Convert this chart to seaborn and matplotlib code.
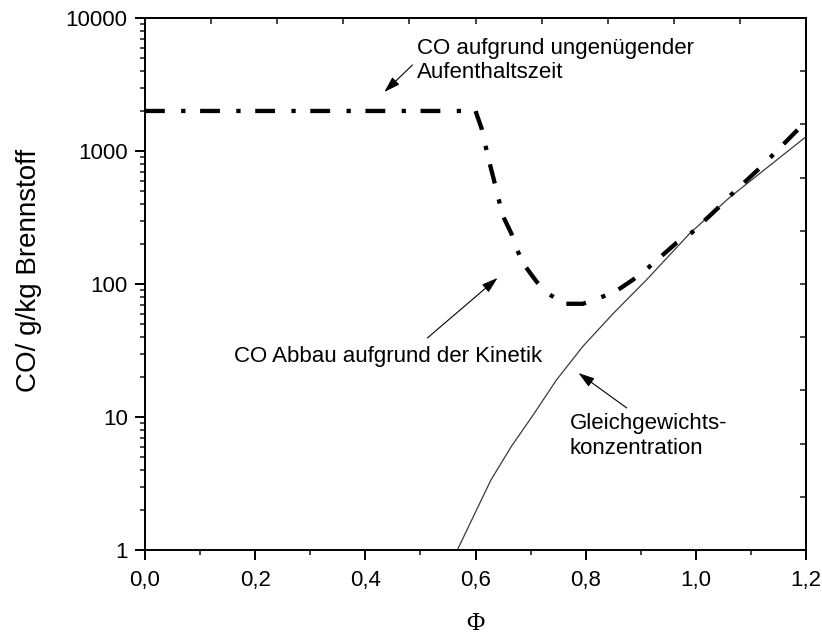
import numpy as np
import pandas as pd
import matplotlib
matplotlib.use("Agg")
import matplotlib.pyplot as plt
import matplotlib.ticker as mticker
import seaborn as sns

# ---- data ----
kin_phi = [0.0, 0.6, 0.611, 0.618, 0.625, 0.638, 0.649, 0.665, 0.675, 0.689,
           0.711, 0.731, 0.762, 0.795, 0.827, 0.858, 0.885, 0.913, 0.965,
           0.991, 1.04, 1.064, 1.113, 1.136, 1.185, 1.2]
kin_co = [2000, 2000, 1480, 1100, 830, 510, 330, 240, 182, 138,
          104, 85, 71, 71, 79, 90, 107, 132, 204,
          240, 372, 468, 724, 900, 1445, 1600]

eq_phi = [0.567, 0.628, 0.665, 0.707, 0.747, 0.795, 0.850, 0.910, 0.989,
          1.062, 1.2]
eq_co = [1.0, 3.36, 6.0, 10.7, 19, 34, 60, 107, 240, 450, 1280]

x_ticks = [0.0, 0.2, 0.4, 0.6, 0.8, 1.0, 1.2]
x_ticklabels = ["0,0", "0,2", "0,4", "0,6", "0,8", "1,0", "1,2"]
y_ticks = [1, 10, 100, 1000, 10000]
y_ticklabels = ["1", "10", "100", "1000", "10000"]

kin_df = pd.DataFrame({"phi": kin_phi, "co": kin_co})
eq_df = pd.DataFrame({"phi": eq_phi, "co": eq_co})

sns.set_style("ticks")
plt.rcParams["font.family"] = ["Liberation Sans", "DejaVu Sans"]
plt.rcParams["text.color"] = "black"
plt.rcParams["axes.labelcolor"] = "black"

fig = plt.figure(figsize=(8.22, 6.34), dpi=100)
ax = fig.add_axes([145/822, 84/634, (806-145)/822, (550-18)/634])

sns.lineplot(data=eq_df, x="phi", y="co", ax=ax, color="#3a3a3a", lw=0.9,
             sort=False, estimator=None)
sns.lineplot(data=kin_df, x="phi", y="co", ax=ax, color="black", lw=3.1,
             sort=False, estimator=None,
             linestyle=(0, (4.6, 3.8, 1.0, 3.4)))

ax.set_yscale("log")
ax.set_xlim(0, 1.2)
ax.set_ylim(1, 10000)

for s in ax.spines.values():
    s.set_linewidth(1.4)
    s.set_color("black")
    s.set_visible(True)

ax.set_xticks(x_ticks)
ax.set_xticklabels(x_ticklabels)
ax.xaxis.set_minor_locator(mticker.MultipleLocator(0.1))
ax.set_yticks(y_ticks)
ax.set_yticklabels(y_ticklabels)
ax.yaxis.set_minor_locator(mticker.LogLocator(base=10, subs=np.arange(2, 10)))
ax.yaxis.set_minor_formatter(mticker.NullFormatter())

ax.tick_params(axis="both", which="major", direction="out", length=7.5,
               width=1.4, labelsize=16, colors="black")
ax.tick_params(axis="x", which="major", pad=7)
ax.tick_params(axis="y", which="major", pad=5)
ax.tick_params(axis="both", which="minor", direction="out", length=3.5,
               width=1.2)

# top and right inner ticks
top = ax.secondary_xaxis("top")
top.set_xticks([0.12 * k for k in range(1, 10)])
top.set_xticklabels([])
top.xaxis.set_minor_locator(mticker.NullLocator())
top.tick_params(direction="in", length=4, width=1.2)
top.spines["top"].set_linewidth(1.4)

right = ax.secondary_yaxis("right")
right.set_yticks([10 ** (0.4 * k) for k in range(1, 10)])
right.set_yticklabels([])
right.yaxis.set_minor_locator(mticker.NullLocator())
right.tick_params(direction="in", length=4, width=1.2)
right.spines["right"].set_linewidth(1.4)

ax.set_xlabel("Φ", fontsize=18, family=["Liberation Serif", "DejaVu Serif"],
              labelpad=16)
ax.set_ylabel("CO/ g/kg Brennstoff", fontsize=20)
ax.yaxis.set_label_coords(-0.156, 0.526)

arrow_kw = dict(arrowstyle="-|>,head_length=0.7,head_width=0.22",
                color="black", lw=0.8, shrinkA=0, shrinkB=0,
                mutation_scale=14)

ax.text(0.4945, 4790, "CO aufgrund ungenügender\nAufenthaltszeit",
        fontsize=16, va="center", ha="left", linespacing=1.22)
ax.annotate("", xy=(0.4345, 2778), xytext=(0.4855, 4434), arrowprops=arrow_kw)

ax.text(0.1618, 28.3, "CO Abbau aufgrund der Kinetik", fontsize=16,
        va="center", ha="left")
ax.annotate("", xy=(0.64, 111), xytext=(0.5127, 39.3), arrowprops=arrow_kw)

ax.text(0.771, 7.2, "Gleichgewichts-\nkonzentration", fontsize=16,
        va="center", ha="left", linespacing=1.22)
ax.annotate("", xy=(0.787, 21.4), xytext=(0.8745, 11.7), arrowprops=arrow_kw)

fig.savefig("out.png", dpi=100)
